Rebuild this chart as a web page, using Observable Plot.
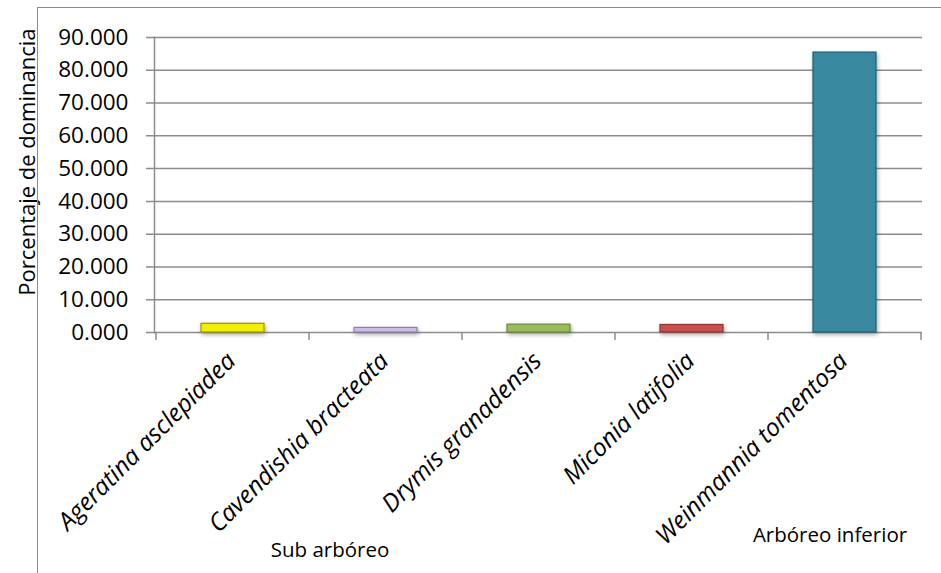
<!DOCTYPE html>
<html>
<head>
<meta charset="utf-8">
<script src="https://cdn.jsdelivr.net/npm/d3@7"></script>
<script src="https://cdn.jsdelivr.net/npm/@observablehq/plot@0.6"></script>
<style>
  html, body { margin: 0; padding: 0; background: #fff; }
  #wrap { position: relative; width: 941px; height: 573px; overflow: hidden; }
  #border { position: absolute; left: 37px; top: 7px; width: 1000px; height: 1000px;
            border-left: 1.5px solid #8c8c8c; border-top: 1.5px solid #8c8c8c; pointer-events: none; }
</style>
</head>
<body>
<div id="wrap"><div id="border"></div></div>
<script>
const species = ["Ageratina asclepiadea", "Cavendishia bracteata", "Drymis granadensis", "Miconia latifolia", "Weinmannia tomentosa"];
const dominance = [2.65, 1.4, 2.4, 2.3, 85.4];
const barColors = ["#f4ee00", "#cdbde6", "#9bbb59", "#c9504d", "#3889a0"];
const barEdges = ["#9a9600", "#8e7fa8", "#6c8a3a", "#8c3431", "#1f5e70"];
const yTicks = [0, 10, 20, 30, 40, 50, 60, 70, 80, 90];
const yTitle = "Porcentaje de dominancia";
const groupLabels = ["Sub arbóreo", "Arbóreo inferior"];
const groupAt = ["Cavendishia bracteata", "Weinmannia tomentosa"];

const data = species.map((s, i) => ({species: s, value: dominance[i], fill: barColors[i], edge: barEdges[i]}));
const groups = groupLabels.map((g, i) => ({label: g, at: groupAt[i]}));

const bw = s => (typeof s.bandwidth === "function" ? s.bandwidth() : s.bandwidth);

// boundary ticks drawn from the band scale
const boundaryTicks = (index, scales) => {
  const x = scales.x, y = scales.y;
  const step = x(species[1]) - x(species[0]);
  const gap = (step - bw(x)) / 2;
  const g = d3.create("svg:g").attr("stroke", "#8c8c8c").attr("stroke-width", 1.5);
  const bounds = species.map(s => x(s) - gap).concat([x(species[species.length - 1]) + bw(x) + gap]);
  for (const b of bounds) {
    g.append("line").attr("x1", b).attr("x2", b).attr("y1", y(0)).attr("y2", y(0) + 8);
  }
  return g.node();
};

const defs = () => {
  const s = d3.create("svg:defs");
  const f = s.append("filter").attr("id", "shadow").attr("x", "-20%").attr("y", "-20%").attr("width", "140%").attr("height", "140%");
  f.append("feDropShadow").attr("dx", 1).attr("dy", 2).attr("stdDeviation", 2).attr("flood-color", "#000").attr("flood-opacity", 0.35);
  return s.node();
};

const chart = Plot.plot({
  width: 941,
  height: 573,
  marginLeft: 154,
  marginTop: 37,
  marginBottom: 241,
  marginRight: 19,
  style: {fontFamily: "Open Sans, sans-serif", background: "transparent", overflow: "visible"},
  x: {domain: species, paddingInner: 0.59, paddingOuter: 0.295, axis: null},
  y: {domain: [0, 90], axis: null},
  marks: [
    defs,
    Plot.ruleY(yTicks, {stroke: "#8c8c8c", strokeWidth: 1.5, insetLeft: -8}),
    Plot.text(yTicks, {y: d => d, frameAnchor: "left", text: d => d.toFixed(3), textAnchor: "end",
                       dx: -26, fontSize: 22.5, fontFamily: "Open Sans", fill: "#000"}),
    Plot.frame({anchor: "left", stroke: "#8c8c8c", strokeWidth: 1.5}),
    boundaryTicks,
    Plot.barY(data, {x: "species", y: "value", fill: "fill", stroke: "edge", strokeWidth: 1.2,
                     render: (i, s, v, d, c, next) => {
                       const g = next(i, s, v, d, c);
                       g.setAttribute("filter", "url(#shadow)");
                       return g;
                     }}),
    Plot.text(species, {x: d => d, y: () => 0, text: d => d, rotate: -45, textAnchor: "end",
                        lineAnchor: "bottom", dx: 4, dy: 30, fontSize: 24.5, fontStyle: "italic",
                        fontFamily: "Open Sans", fill: "#000"}),
    Plot.text(groups, {x: "at", y: () => 0, text: "label", textAnchor: "middle", lineAnchor: "bottom",
                       fontSize: 20.5, fontFamily: "Open Sans", fill: "#000",
                       render: (i, s, v, d, c, next) => {
                         const g = next(i, s, v, d, c);
                         const offs = [[-56, 224], [-15, 209]];
                         g.querySelectorAll("text").forEach((t, k) => {
                           const tr = t.getAttribute("transform") || "";
                           t.setAttribute("transform", tr + ` translate(${offs[k][0]},${offs[k][1]})`);
                         });
                         return g;
                       }}),
    Plot.text([yTitle], {frameAnchor: "top-left", text: d => d, rotate: -90, textAnchor: "end",
                         lineAnchor: "bottom", dx: -120, dy: -9, fontSize: 22, fontFamily: "Open Sans", fill: "#000"})
  ]
});
document.getElementById("wrap").prepend(chart);
</script>
</body>
</html>
